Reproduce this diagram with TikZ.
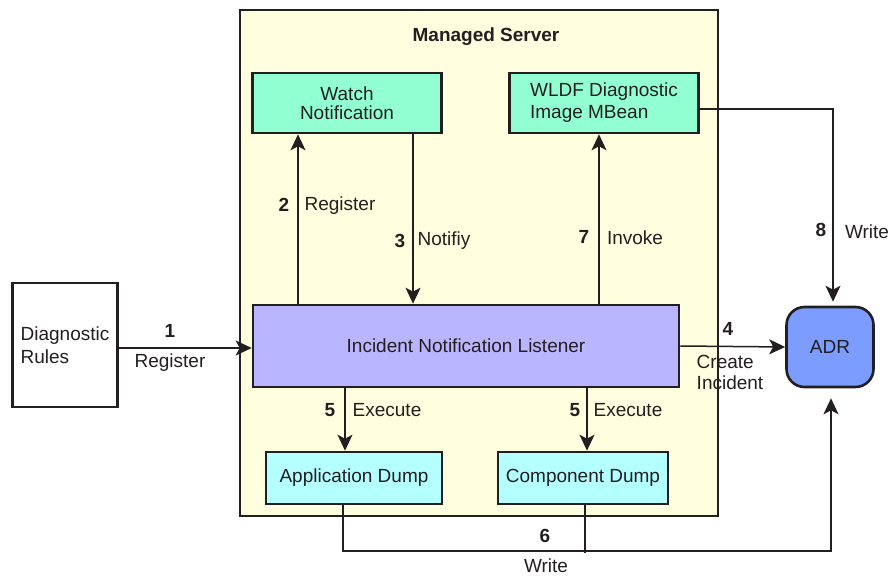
\documentclass[tikz,border=0pt]{standalone}
\usepackage{fontspec}
\setmainfont{Liberation Sans}
\usetikzlibrary{arrows.meta,calc}
\definecolor{serveryellow}{RGB}{255,254,222}
\definecolor{watchgreen}{RGB}{146,255,210}
\definecolor{listenerblue}{RGB}{185,181,255}
\definecolor{adrblue}{RGB}{124,156,255}
\definecolor{dumpcyan}{RGB}{180,255,255}
\definecolor{inkgray}{RGB}{35,31,32}
\tikzset{
  server/.style={rectangle, draw=inkgray, line width=2.2pt, fill=serveryellow, inner sep=0pt},
  comp/.style={rectangle, draw=inkgray, line width=2.6pt, align=center, inner sep=0pt, fill=watchgreen},
  listener/.style={comp, fill=listenerblue},
  dump/.style={comp, fill=dumpcyan},
  rules/.style={comp, fill=white, align=left},
  store/.style={comp, rounded corners=18pt, fill=adrblue},
  arrow/.style={-{Stealth[length=16pt,width=15pt,inset=4pt]}, line width=1.5pt, draw=inkgray},
  link/.style={line width=1.5pt, draw=inkgray},
  num/.style={font=\bfseries\fontsize{19}{21}\selectfont, text=inkgray},
  lbl/.style={align=left, text=inkgray}
}
\begin{document}
\begin{tikzpicture}[x=1pt, y=-1pt, font=\fontsize{19}{21}\selectfont, text=inkgray]
\useasboundingbox (0,0) rectangle (889,577);
\fill[white] (0,0) rectangle (889,577);
% managed server
\node[server, minimum width=478, minimum height=506] (ms) at (479,263) {};
\node[font=\bfseries\fontsize{19}{21}\selectfont] (mstitle) at (486,37) {Managed Server};
% components
\node[comp, minimum width=189, minimum height=60, font=\fontsize{19}{19}\selectfont] (watch) at (347,103) {Watch\\Notification};
\node[comp, minimum width=189, minimum height=60, align=left, font=\fontsize{19}{22}\selectfont] (wldf) at (604,103) {WLDF Diagnostic\\Image MBean};
\node[listener, minimum width=426, minimum height=82] (inl) at (466,346) {Incident Notification Listener};
\node[rules, minimum width=105, minimum height=124, font=\fontsize{19}{23}\selectfont] (rules) at (65,345) {Diagnostic\\Rules};
\node[store, minimum width=87, minimum height=80] (adr) at (830,347) {ADR};
\node[dump, minimum width=176, minimum height=52] (appdump) at (354,478) {Application Dump};
\node[dump, minimum width=170, minimum height=52] (compdump) at (583,478) {Component Dump};
% connector points
\coordinate (reg) at ([xshift=-49pt]watch.south);
\coordinate (note) at ([xshift=66pt]watch.south);
\coordinate (inv) at ([xshift=-5pt]wldf.south);
\coordinate (exa) at ([xshift=-9pt]appdump.north);
\coordinate (exc) at ([xshift=4pt]compdump.north);
\coordinate (wra) at ([xshift=-11pt]appdump.south);
\coordinate (wrc) at ([xshift=2pt]compdump.south);
\coordinate (bus) at (831,551);
% connectors
\draw[arrow] (rules.east |- 0,348) -- (inl.west |- 0,348);
\draw[arrow] (inl.north -| reg) -- (reg);
\draw[arrow] (note) -- (inl.north -| note);
\draw[arrow] (inl.north -| inv) -- (inv);
\draw[arrow] ([yshift=-6pt]wldf.east) -| ([xshift=3pt,yshift=4pt]adr.north);
\draw[arrow] (inl.east) -- (adr.west);
\draw[arrow] (inl.south -| exa) -- (exa);
\draw[arrow] (inl.south -| exc) -- (exc);
\draw[arrow] (wra) |- (bus) -- ([yshift=-10pt]adr.south -| bus);
\draw[link] (wrc) -- ([yshift=-2pt]wrc |- bus);
% labels
\node[num] (n1) at (170,331) {1};
\node[lbl] (t1) at (170,363) {Register};
\node[num] (n2) at (284,205) {2};
\node[lbl] (t2) at (340,206) {Register};
\node[num] (n3) at (400,241) {3};
\node[lbl] (t3) at (444,241) {Notifiy};
\node[num] (n7) at (584,237) {7};
\node[lbl] (t7) at (635,238) {Invoke};
\node[num] (n8) at (821,230) {8};
\node[lbl] (t8) at (867,232) {Write};
\node[num] (n4) at (728,329) {4};
\node[lbl] (t4) at (730,372) {Create\\Incident};
\node[num] (n5a) at (330,410) {5};
\node[lbl] (t5a) at (387,410) {Execute};
\node[num] (n5b) at (575,410) {5};
\node[lbl] (t5b) at (628,410) {Execute};
\node[num] (n6) at (545,536) {6};
\node[lbl] (t6) at (546,566) {Write};
\end{tikzpicture}
\end{document}
